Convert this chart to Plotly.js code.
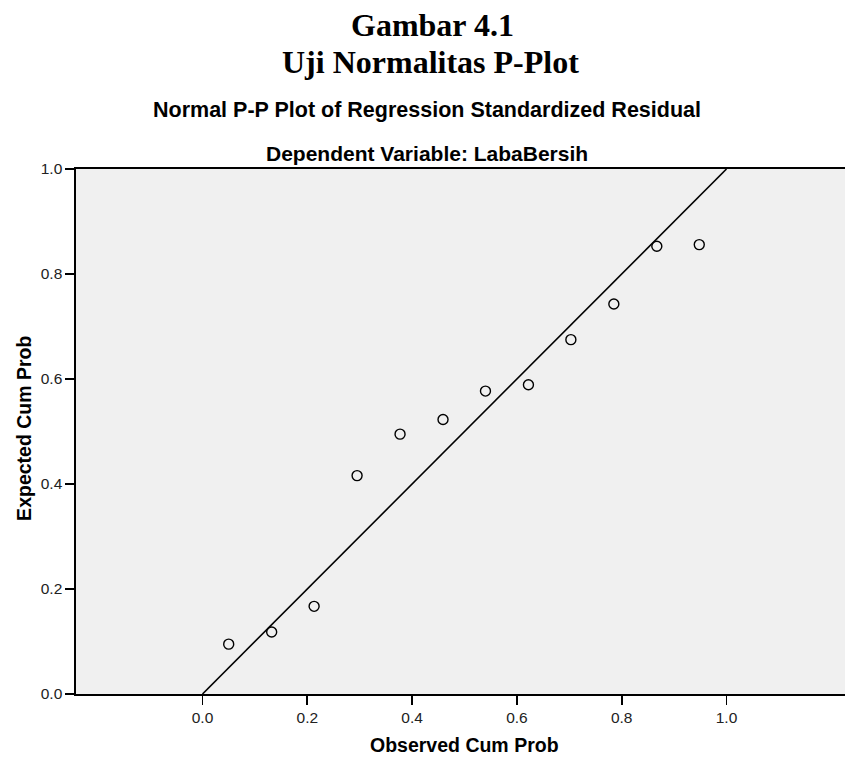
<!DOCTYPE html>
<html>
<head>
<meta charset="utf-8">
<script src="https://cdn.plot.ly/plotly-3.0.1.min.js"></script>
<style>html,body{margin:0;padding:0;background:#fff;}#chart{width:845px;height:757px;}</style>
</head>
<body>
<div id="chart"></div>
<script>
const observedCumProb = [0.050, 0.132, 0.213, 0.295, 0.377, 0.459, 0.540, 0.622, 0.703, 0.785, 0.867, 0.948];
const expectedCumProb = [0.095, 0.118, 0.167, 0.416, 0.495, 0.523, 0.577, 0.589, 0.675, 0.743, 0.853, 0.856];
const refLineX = [0, 1];
const refLineY = [0, 1];
const tickValues = [0.0, 0.2, 0.4, 0.6, 0.8, 1.0];
const tickLabels = ["0.0", "0.2", "0.4", "0.6", "0.8", "1.0"];

const traces = [
  {
    x: refLineX, y: refLineY, type: 'scatter', mode: 'lines',
    line: {color: '#000', width: 1.6}, hoverinfo: 'skip'
  },
  {
    x: observedCumProb, y: expectedCumProb, type: 'scatter', mode: 'markers',
    marker: {symbol: 'circle-open', size: 10, color: '#000', line: {width: 1.4, color: '#000'}},
    cliponaxis: false
  }
];

const sans = 'Liberation Sans, Arial, sans-serif';
const serif = 'Liberation Serif, Times New Roman, serif';

const layout = {
  width: 845, height: 757,
  margin: {l: 76, r: 0, t: 169, b: 63},
  paper_bgcolor: '#ffffff',
  plot_bgcolor: '#f0f0f0',
  showlegend: false,
  font: {family: sans, color: '#222'},
  xaxis: {
    range: [-0.2414, 1.2261],
    tickvals: tickValues, ticktext: tickLabels,
    showgrid: false, zeroline: false,
    showline: true, linecolor: '#000', linewidth: 1.6, mirror: true,
    ticks: 'outside', ticklen: 9, tickwidth: 1.6, tickcolor: '#000',
    tickfont: {size: 15.5, color: '#222'}
  },
  yaxis: {
    range: [0, 1],
    tickvals: tickValues, ticktext: tickLabels,
    showgrid: false, zeroline: false,
    showline: true, linecolor: '#000', linewidth: 1.6,
    ticks: 'outside', ticklen: 9, tickwidth: 1.6, tickcolor: '#000',
    tickfont: {size: 15.5, color: '#222'}
  },
  annotations: [
    {text: '<b>Gambar 4.1</b>', xref: 'paper', yref: 'paper', x: 0.463, y: 1, xanchor: 'center', yanchor: 'middle',
     yshift: 144, showarrow: false, font: {family: serif, size: 32, color: '#000'}},
    {text: '<b>Uji Normalitas P-Plot</b>', xref: 'paper', yref: 'paper', x: 0.461, y: 1, xanchor: 'center', yanchor: 'middle',
     yshift: 107, showarrow: false, font: {family: serif, size: 32, color: '#000'}},
    {text: '<b>Normal P-P Plot of Regression Standardized Residual</b>', xref: 'paper', yref: 'paper', x: 0.4564, y: 1, xanchor: 'center', yanchor: 'middle',
     yshift: 59, showarrow: false, font: {family: sans, size: 21.5, color: '#000'}},
    {text: '<b>Dependent Variable: LabaBersih</b>', xref: 'paper', yref: 'paper', x: 0.457, y: 1, xanchor: 'center', yanchor: 'middle',
     yshift: 16, showarrow: false, font: {family: sans, size: 21, color: '#000'}},
    {text: '<b>Observed Cum Prob</b>', xref: 'paper', yref: 'paper', x: 0.5046, y: 0, xanchor: 'center', yanchor: 'middle',
     yshift: -51, showarrow: false, font: {family: sans, size: 19.5, color: '#000'}},
    {text: '<b>Expected Cum Prob</b>', xref: 'paper', yref: 'paper', x: 0, y: 0.505, xanchor: 'center', yanchor: 'middle',
     xshift: -52, textangle: -90, showarrow: false, font: {family: sans, size: 19.5, color: '#000'}}
  ]
};

Plotly.newPlot('chart', traces, layout, {displayModeBar: false, staticPlot: true});
</script>
</body>
</html>
